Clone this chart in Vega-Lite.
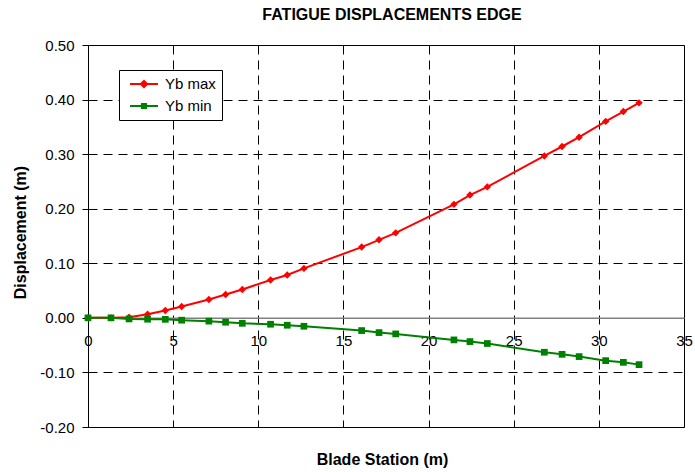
{
  "$schema": "https://vega.github.io/schema/vega-lite/v6.json",
  "width": 596,
  "height": 382,
  "autosize": {"type": "none"},
  "padding": {"left": 88, "top": 45, "right": 11, "bottom": 45},
  "background": "white",
  "title": {
    "text": "FATIGUE DISPLACEMENTS EDGE",
    "font": "Liberation Sans",
    "fontSize": 16,
    "fontWeight": "bold",
    "color": "#000000",
    "anchor": "middle",
    "dx": 6,
    "offset": 15
  },
  "config": {
    "view": {"stroke": "#000000", "strokeWidth": 1},
    "font": "Liberation Sans",
    "locale": {"number": {"decimal": ".", "thousands": ",", "grouping": [3], "currency": ["$", ""], "minus": "-"}}
  },
  "data": {
    "values": [
      {"station": 0, "value": 0, "series": "Yb max"},
      {"station": 1.35, "value": 0, "series": "Yb max"},
      {"station": 2.41, "value": 0.001, "series": "Yb max"},
      {"station": 3.5, "value": 0.0066, "series": "Yb max"},
      {"station": 4.54, "value": 0.0134, "series": "Yb max"},
      {"station": 5.5, "value": 0.0207, "series": "Yb max"},
      {"station": 7.1, "value": 0.0336, "series": "Yb max"},
      {"station": 8.08, "value": 0.0427, "series": "Yb max"},
      {"station": 9.06, "value": 0.052, "series": "Yb max"},
      {"station": 10.72, "value": 0.0695, "series": "Yb max"},
      {"station": 11.7, "value": 0.0785, "series": "Yb max"},
      {"station": 12.68, "value": 0.0906, "series": "Yb max"},
      {"station": 16.07, "value": 0.1297, "series": "Yb max"},
      {"station": 17.09, "value": 0.143, "series": "Yb max"},
      {"station": 18.07, "value": 0.1558, "series": "Yb max"},
      {"station": 21.49, "value": 0.208, "series": "Yb max"},
      {"station": 22.43, "value": 0.225, "series": "Yb max"},
      {"station": 23.45, "value": 0.24, "series": "Yb max"},
      {"station": 26.8, "value": 0.2967, "series": "Yb max"},
      {"station": 27.84, "value": 0.314, "series": "Yb max"},
      {"station": 28.84, "value": 0.331, "series": "Yb max"},
      {"station": 30.4, "value": 0.36, "series": "Yb max"},
      {"station": 31.44, "value": 0.378, "series": "Yb max"},
      {"station": 32.36, "value": 0.394, "series": "Yb max"},
      {"station": 0, "value": 0, "series": "Yb min"},
      {"station": 1.35, "value": 0, "series": "Yb min"},
      {"station": 2.41, "value": -0.002, "series": "Yb min"},
      {"station": 3.5, "value": -0.0025, "series": "Yb min"},
      {"station": 4.54, "value": -0.0027, "series": "Yb min"},
      {"station": 5.5, "value": -0.0043, "series": "Yb min"},
      {"station": 7.1, "value": -0.006, "series": "Yb min"},
      {"station": 8.08, "value": -0.008, "series": "Yb min"},
      {"station": 9.06, "value": -0.01, "series": "Yb min"},
      {"station": 10.72, "value": -0.0117, "series": "Yb min"},
      {"station": 11.7, "value": -0.0135, "series": "Yb min"},
      {"station": 12.68, "value": -0.0154, "series": "Yb min"},
      {"station": 16.07, "value": -0.0233, "series": "Yb min"},
      {"station": 17.09, "value": -0.027, "series": "Yb min"},
      {"station": 18.07, "value": -0.0294, "series": "Yb min"},
      {"station": 21.49, "value": -0.0404, "series": "Yb min"},
      {"station": 22.43, "value": -0.0435, "series": "Yb min"},
      {"station": 23.45, "value": -0.047, "series": "Yb min"},
      {"station": 26.8, "value": -0.063, "series": "Yb min"},
      {"station": 27.84, "value": -0.0668, "series": "Yb min"},
      {"station": 28.84, "value": -0.071, "series": "Yb min"},
      {"station": 30.4, "value": -0.0784, "series": "Yb min"},
      {"station": 31.44, "value": -0.0815, "series": "Yb min"},
      {"station": 32.36, "value": -0.0857, "series": "Yb min"}
    ]
  },
  "encoding": {
    "x": {
      "field": "station",
      "type": "quantitative",
      "scale": {"domain": [0, 35], "nice": false, "zero": false},
      "axis": {
        "title": "Blade Station (m)",
        "titleFont": "Liberation Sans",
        "titleFontSize": 16,
        "titleFontWeight": "bold",
        "titleColor": "#000000",
        "titleX": 294,
        "titleY": 134,
        "titleBaseline": "top",
        "titleAlign": "center",
        "titleAnchor": null,
        "offset": -109.14,
        "values": [0, 5, 10, 15, 20, 25, 30, 35],
        "labelFont": "Liberation Sans",
        "labelFontSize": 15,
        "labelColor": "#000000",
        "labelPadding": 11,
        "labelFlush": false,
        "labelOverlap": false,
        "tickSize": 5,
        "tickColor": "#000000",
        "domainColor": "#808080",
        "domainWidth": 1.5,
        "grid": true,
        "gridColor": "#000000",
        "gridDash": [9, 6],
        "gridOpacity": 1
      }
    },
    "y": {
      "field": "value",
      "type": "quantitative",
      "scale": {"domain": [-0.2, 0.5], "nice": false, "zero": false},
      "axis": {
        "title": "Displacement (m)",
        "titleFont": "Liberation Sans",
        "titleFontSize": 16,
        "titleFontWeight": "bold",
        "titleColor": "#000000",
        "titleX": -63,
        "titleY": 187,
        "titleAngle": -90,
        "titleBaseline": "alphabetic",
        "titleAlign": "center",
        "titleAnchor": null,
        "values": [-0.2, -0.1, 0, 0.1, 0.2, 0.3, 0.4, 0.5],
        "format": ".2f",
        "labelFont": "Liberation Sans",
        "labelFontSize": 15,
        "labelColor": "#000000",
        "labelPadding": 8,
        "labelFlush": false,
        "labelOverlap": false,
        "tickSize": 6,
        "tickColor": "#000000",
        "domainColor": "#000000",
        "grid": true,
        "gridColor": {"condition": {"test": "datum.value === 0", "value": "#808080"}, "value": "#000000"},
        "gridDash": {"condition": {"test": "datum.value === 0", "value": []}, "value": [9, 6]},
        "gridOpacity": 1
      }
    },
    "color": {
      "field": "series",
      "type": "nominal",
      "scale": {"domain": ["Yb max", "Yb min"], "range": ["#FF0000", "#008000"]},
      "legend": {
        "title": null,
        "orient": "none",
        "legendX": 31,
        "legendY": 25,
        "direction": "vertical",
        "strokeColor": "#000000",
        "fillColor": "#FFFFFF",
        "padding": 6,
        "cornerRadius": 0,
        "labelFont": "Liberation Sans",
        "labelFontSize": 15,
        "labelColor": "#000000",
        "labelOffset": 13,
        "symbolOffset": 11,
        "symbolSize": 196,
        "symbolStrokeWidth": 2,
        "symbolOpacity": 1,
        "rowPadding": 6,
        "encode": {
          "symbols": {
            "update": {
              "shape": {"signal": "datum.value === 'Yb max' ? 'M-2,0H2M0,-0.45L0.45,0L0,0.45L-0.45,0Z' : 'M-2,0H2M-0.3,-0.3H0.3V0.3H-0.3Z'"},
              "fill": {"scale": "color", "field": "value"},
              "stroke": {"scale": "color", "field": "value"},
              "strokeWidth": {"value": 2},
              "opacity": {"value": 1}
            }
          }
        }
      }
    }
  },
  "layer": [
    {
      "mark": {"type": "line", "strokeWidth": 2}
    },
    {
      "mark": {"type": "point", "filled": true, "opacity": 1},
      "encoding": {
        "shape": {"condition": {"test": "datum.series === 'Yb max'", "value": "diamond"}, "value": "square"},
        "size": {"condition": {"test": "datum.series === 'Yb max'", "value": 55}, "value": 45}
      }
    }
  ]
}
